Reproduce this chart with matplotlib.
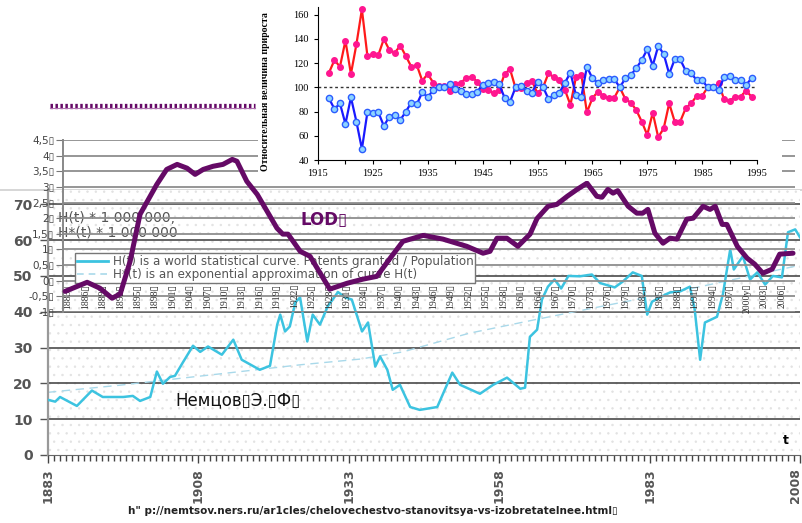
import matplotlib
matplotlib.use('Agg')
import numpy as np
import matplotlib.pyplot as plt
import matplotlib.transforms as mtransforms
from matplotlib.lines import Line2D
from matplotlib.patches import Rectangle

# Data ------------------------------------------------------------------------
# H(t): patents granted / population (bottom chart)
h_years = [1883, 1884.2, 1885, 1887.8, 1890.3, 1892.1, 1895.5, 1897.1, 1898.3, 1900,
           1901.1, 1902.1, 1903.3, 1904.1, 1905.4, 1907.1, 1908.3, 1909.6, 1911.9, 1913.8,
           1915.2, 1918.2, 1919.9, 1921.1, 1921.6, 1922.4, 1923.2, 1924.1, 1924.9, 1926.1,
           1927.0, 1928.2, 1929.5, 1931.2, 1932.4, 1933.5, 1935.2, 1936.2, 1937.4, 1938.2,
           1939.4, 1940.3, 1941.5, 1943.2, 1944.8, 1947.7, 1950.2, 1951.5, 1954.8, 1957.0,
           1959.3, 1961.5, 1962.3, 1963.1, 1964.3, 1965.1, 1966.1, 1967.2, 1968.3, 1969.5,
           1971.4, 1973.4, 1974.8, 1977.2, 1978.6, 1980.2, 1981.7, 1982.6, 1983.4, 1984.7,
           1986.4, 1988.1, 1989.7, 1990.5, 1991.4, 1992.2, 1994.2, 1995.2, 1996.4, 1997.0,
           1998.5, 1999.7, 2000.9, 2002.2, 2003.5, 2005.0, 2006.0, 2007.2, 2008]
h_vals = [15.4, 14.9, 16.2, 13.7, 18.0, 16.2, 16.2, 16.5, 15.1, 16.2,
          23.3, 19.9, 21.8, 22.1, 25.8, 30.5, 28.8, 30.3, 28.0, 32.2,
          26.6, 23.8, 24.9, 36.4, 39.2, 34.5, 35.9, 42.6, 44.0, 31.7,
          39.2, 36.4, 41.5, 45.5, 44.0, 43.4, 34.5, 37.0, 24.7, 27.5,
          23.8, 18.2, 19.6, 13.4, 12.6, 13.4, 23.0, 19.6, 17.1, 19.6,
          21.6, 18.5, 18.8, 33.0, 35.0, 43.4, 47.0, 49.0, 46.5, 50.0,
          49.9, 50.4, 48.0, 46.8, 48.5, 51.0, 50.0, 39.2, 42.8, 44.0,
          45.4, 45.7, 47.0, 40.6, 26.6, 37.0, 38.6, 45.0, 57.4, 51.8,
          55.5, 49.0, 51.0, 47.6, 50.0, 49.6, 62.2, 63.0, 60.8]

# H*(t): exponential approximation
hexp_years = [1883, 1895, 1906, 1915, 1925, 1935, 1942, 1953, 1964, 1975, 1990, 2008]
hexp_vals = [17.5, 19.5, 21.6, 23.3, 25.2, 26.8, 28.8, 34.0, 37.8, 41.5, 46.5, 53.0]

# LOD curve
lod_years = [1882.5, 1886.3, 1888.5, 1890.6, 1892.0, 1893.7, 1895.4, 1898.3, 1900.0, 1901.8,
             1903.5, 1904.9, 1906.3, 1908.0, 1909.7, 1911.3, 1912.1, 1913.8, 1915.6, 1917.3,
             1919.0, 1920.0, 1920.9, 1923.0, 1924.7, 1928.1, 1931.1, 1933.8, 1936.2, 1938.5,
             1940.7, 1944.2, 1947.6, 1951.7, 1954.5, 1955.7, 1956.9, 1958.6, 1960.5, 1962.6,
             1963.8, 1965.7, 1967.2, 1969.0, 1970.7, 1972.4, 1974.1, 1975.0, 1976.0, 1976.9,
             1977.7, 1979.5, 1981.0, 1982.0, 1982.9, 1984.1, 1985.5, 1986.7, 1987.9, 1989.6,
             1990.7, 1992.4, 1993.6, 1994.5, 1995.7, 1996.5, 1998.3, 2000.0, 2001.3, 2002.7,
             2004.3, 2005.6, 2007.9]
lod_vals = [-0.34, -0.05, -0.24, -0.56, -0.42, 0.62, 2.12, 3.08, 3.56, 3.72,
            3.60, 3.40, 3.56, 3.66, 3.72, 3.88, 3.82, 3.18, 2.76, 2.22,
            1.68, 1.49, 1.49, 0.94, 0.78, -0.27, -0.08, 0.05, 0.14, 0.72,
            1.26, 1.45, 1.33, 1.10, 0.88, 0.94, 1.36, 1.36, 1.10, 1.49,
            1.99, 2.38, 2.44, 2.70, 2.92, 3.12, 2.70, 2.67, 2.92, 2.80,
            2.88, 2.38, 2.16, 2.16, 2.28, 1.52, 1.20, 1.36, 1.33, 1.97,
            2.00, 2.38, 2.28, 2.38, 1.80, 1.80, 1.10, 0.72, 0.53, 0.24,
            0.37, 0.85, 0.88]
lod_label_years = list(range(1883, 2007, 3))
lod_yticks = [-1, -0.5, 0, 0.5, 1, 1.5, 2, 2.5, 3, 3.5, 4, 4.5]

# Relative growth (top chart)
rel_years = list(range(1917, 1995))
rel_red = [112.1, 122.6, 117.1, 138.6, 111.1, 135.6, 164.5, 126.2, 127.3, 126.8,
           140.0, 130.9, 128.7, 134.5, 126.0, 117.1, 118.5, 105.5, 111.1, 103.9,
           101.2, 101.2, 97.3, 102.5, 103.9, 107.5, 108.9, 104.7, 98.7, 97.9,
           95.1, 97.9, 111.1, 115.0, 99.4, 99.4, 103.9, 105.3, 95.0, 100.0,
           111.6, 108.3, 106.0, 97.9, 85.5, 108.3, 110.2, 79.4, 91.0, 96.5,
           92.9, 91.5, 91.5, 100.0, 90.4, 87.4, 81.3, 71.7, 60.7, 79.1,
           58.8, 66.2, 86.8, 71.7, 71.7, 82.7, 86.8, 92.9, 92.9, 100.0,
           100.0, 103.4, 90.2, 88.8, 92.3, 92.3, 97.3, 92.3]
rel_blue = [91.0, 82.1, 86.8, 69.8, 91.8, 71.7, 49.1, 79.4, 79.1, 79.4,
            68.1, 75.8, 77.2, 73.1, 79.9, 87.4, 86.0, 95.9, 91.8, 97.9,
            100.0, 100.0, 102.8, 98.4, 97.3, 94.5, 94.2, 96.5, 102.0, 103.4,
            104.2, 102.8, 91.5, 88.2, 100.0, 101.2, 97.3, 95.6, 104.7, 100.5,
            90.4, 93.7, 95.6, 103.9, 112.2, 93.7, 92.3, 117.1, 107.5, 103.9,
            106.1, 106.9, 106.9, 100.0, 107.5, 110.2, 115.8, 122.6, 131.5, 117.9,
            134.2, 127.6, 111.1, 123.2, 123.2, 113.8, 111.6, 106.1, 106.1, 100.0,
            100.0, 97.9, 108.3, 109.4, 106.1, 106.1, 102.0, 107.5]

W, H = 802, 523
PURPLE = '#650a66'
CYAN = '#3cc3e0'
SERIF = ['Liberation Serif', 'DejaVu Sans']


def box(x0, y0, x1, y1):
    # pixel box (top-left origin) -> figure rect
    return [x0 / W, 1 - y1 / H, (x1 - x0) / W, (y1 - y0) / H]


plt.rcParams['hatch.linewidth'] = 0.5
fig = plt.figure(figsize=(W / 100, H / 100), dpi=100)

#------------------------------------------------------------------------------
# Bottom chart: H(t)
ax = fig.add_axes(box(48, 190, 800, 455), zorder=1)
ax.add_patch(Rectangle((0, 0), 1, 1, transform=ax.transAxes, facecolor='white',
                       edgecolor='#e2e2e2', hatch='..', lw=0, zorder=0))
ax.set_xlim(1883, 2008)
ax.set_ylim(0, 74)
for v in range(10, 80, 10):
    ax.axhline(v, color='#4a4a4a', lw=1.2, zorder=1)
ax.plot(hexp_years, hexp_vals, color='#a9d9ea', lw=1, ls=(0, (6, 4)), zorder=2)
ax.plot(h_years, h_vals, color=CYAN, lw=1.8, zorder=3, solid_joinstyle='round')
ax.set_xticks(range(1883, 2009, 25))
ax.set_xticks(range(1883, 2009), minor=True)
ax.set_yticks(range(0, 80, 10))
ax.tick_params(axis='x', which='both', direction='out', color='#444', width=1,
               labelrotation=90, labelsize=9, labelcolor='#555')
ax.tick_params(axis='x', which='major', length=6)
ax.tick_params(axis='x', which='minor', length=4)
ax.tick_params(axis='y', length=6, width=1, color='#555', labelsize=10,
               labelcolor='#555', pad=5)
for lab in ax.get_xticklabels() + ax.get_yticklabels():
    lab.set_fontweight('bold')
# last year label sits on the right edge, nudge it inside
last = ax.get_xticklabels()[-1]
last.set_transform(last.get_transform() +
                   mtransforms.ScaledTranslation(-5 / 100, 0, fig.dpi_scale_trans))
for s in ['top', 'right']:
    ax.spines[s].set_visible(False)
ax.spines['left'].set_color('#999')
ax.spines['left'].set_linewidth(1.6)
ax.spines['bottom'].set_color('#666')

#------------------------------------------------------------------------------
# LOD chart, pasted over the bottom one
ax2 = fig.add_axes(box(63, 140, 795, 312), zorder=2)
ax2.patch.set_visible(False)
ax2.set_xlim(1883 - 5 / 5.805, 2006 + 13 / 5.805)
ax2.set_ylim(-1, 4.5)
for v in lod_yticks:
    ax2.axhline(v, color='#8e8e8e', lw=1.3, zorder=1)
ax2.plot(lod_years, lod_vals, color=PURPLE, lw=3.6, zorder=4,
         solid_joinstyle='round', solid_capstyle='round', clip_on=False)
ax2.set_xticks([])
ax2.set_yticks(lod_yticks,
               [(f"{v:g}".replace('.', ',')) + '\u25af' for v in lod_yticks])
ax2.tick_params(axis='y', length=5, color='#777', labelsize=7.5,
                labelcolor='#444', pad=1)
for s in ['top', 'right', 'bottom']:
    ax2.spines[s].set_visible(False)
ax2.spines['left'].set_color('#888')
ax2.spines['left'].set_linewidth(1.4)

lod_labels = [f"{y}\u25af" for y in lod_label_years]
lod_labels[lod_label_years.index(2000)] = "2000y\u25af"
for yr, lab in zip(lod_label_years, lod_labels):
    ax2.text(yr, -0.1, lab, rotation=90, ha='center', va='top', fontsize=7,
             family=SERIF, color='#333', zorder=2)

handles = [Line2D([], [], color=CYAN, lw=2),
           Line2D([], [], color='#a9d9ea', lw=1.2, ls=(0, (4, 3)))]
leg = ax2.legend(handles,
                 ["H(t) is a world statistical curve. Patents granted / Population",
                  "H*(t) is an exponential approximation of curve H(t)"],
                 loc='upper left', bbox_to_anchor=(75 / W, 1 - 253 / H),
                 bbox_transform=fig.transFigure, fontsize=8.6, labelcolor='#555',
                 frameon=True, fancybox=False, framealpha=1, edgecolor='#777',
                 borderpad=0.15, labelspacing=0.05, handlelength=2.6,
                 handletextpad=0.4, borderaxespad=0)
leg.set_zorder(3)

#------------------------------------------------------------------------------
# Top chart: relative growth, on a white cover
fig.add_artist(Rectangle((258 / W, 1 - 181 / H), 524 / W, 181 / H,
                         transform=fig.transFigure, facecolor='white',
                         edgecolor='none', zorder=2.6))
ax3 = fig.add_axes(box(318, 7, 757, 160), zorder=3)
ax3.set_xlim(1915, 1995)
ax3.set_ylim(40, 40 + 153 / 1.21)
ax3.axhline(100, color='#333', lw=1, ls=(0, (2, 2)), zorder=1)
ax3.plot(rel_years, rel_red, color='#ff1a1a', lw=1.6, marker='o', ms=4,
         mfc='#ff1690', mec='#ff1690', zorder=2, clip_on=False)
ax3.plot(rel_years, rel_blue, color='#1a1aff', lw=1.6, marker='o', ms=4.5,
         mfc='#8dd4ff', mec='#2b5cff', mew=1, zorder=3, clip_on=False)
ax3.set_xticks(range(1915, 1996, 10))
ax3.set_xticks(range(1915, 1996, 5), minor=True)
ax3.set_yticks(range(40, 161, 20))
ax3.tick_params(which='both', direction='out', length=3, width=0.8, labelsize=7.5)
for lab in ax3.get_xticklabels() + ax3.get_yticklabels():
    lab.set_family(SERIF)
for s in ['top', 'right']:
    ax3.spines[s].set_visible(False)
ax3.set_ylabel("Относительная величина прироста", family=SERIF,
               fontweight='bold', fontsize=7)
ax3.yaxis.set_label_coords(-0.11, 0.45)

#------------------------------------------------------------------------------
# Loose decorations and captions
fig.add_artist(Line2D([0, 1], [1 - 190 / H] * 2, color='#d0d0d0', lw=1.2,
                      zorder=0.5))
fig.add_artist(Line2D([50 / W, 255 / W], [1 - 105.5 / H] * 2, color=PURPLE,
                      lw=3.8, dashes=(0.47, 0.47), zorder=5))
fig.add_artist(Line2D([50 / W, 255 / W], [1 - 108 / H] * 2, color='#b070b0',
                      lw=0.8, zorder=5))

fig.text(58 / W, 1 - 218 / H, "H(t) * 1 000 000,", fontsize=10, color='#555',
         va='center', zorder=1.5)
fig.text(58 / W, 1 - 233 / H, "H*(t) * 1 000 000", fontsize=10, color='#555',
         va='center', zorder=1.5)
fig.text(300 / W, 1 - 220 / H, "LOD\u25af", fontsize=12, color=PURPLE,
         fontweight='bold', va='center', zorder=5)
fig.text(175 / W, 1 - 400 / H, "Немцов\u25afЭ.\u25afФ\u25af", fontsize=12,
         color='#111', va='center', zorder=5)
fig.text(783 / W, 1 - 440 / H, "t", fontsize=9, fontweight='bold',
         va='center', zorder=5)
fig.text(128 / W, 1 - 511 / H,
         "h\" p://nemtsov.ners.ru/ar1cles/chelovechestvo-stanovitsya-vs-"
         "izobretatelnee.html\u25af",
         fontsize=7.5, fontweight='bold', color='#222', va='center', zorder=5)

fig.savefig('out.png', dpi=100)
